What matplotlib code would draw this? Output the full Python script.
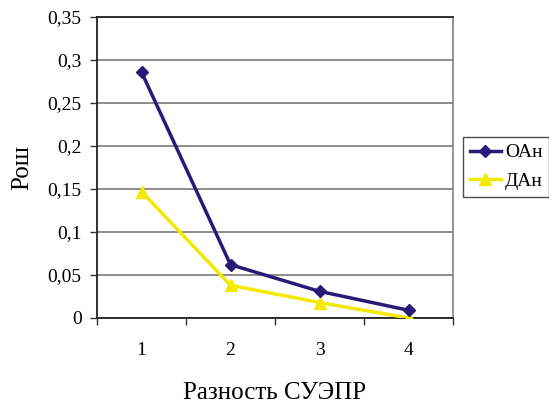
import matplotlib
matplotlib.use("Agg")
import matplotlib.pyplot as plt
from matplotlib.ticker import FixedLocator, FuncFormatter

categories = [1, 2, 3, 4]
oan = [0.286, 0.062, 0.031, 0.009]
dan = [0.147, 0.038, 0.018, 0.0]
y_ticks = [0, 0.05, 0.1, 0.15, 0.2, 0.25, 0.3, 0.35]

plt.rcParams['font.family'] = ['Liberation Serif', 'DejaVu Serif']

fig = plt.figure(figsize=(5.49, 4.03), dpi=100)
ax = fig.add_axes([97 / 549, 1 - 318 / 403, (453 - 97) / 549, (318 - 17) / 403])

x = list(range(len(categories)))
ax.plot(x, oan, color='#2a1a78', lw=2.5, marker='D', ms=6.5, label='ОАн', zorder=4)
ax.plot(x, dan, color='#f2ea00', lw=2.5, marker='^', ms=8, label='ДАн', zorder=3)

ax.set_xlim(-0.5, len(categories) - 0.5)
ax.set_ylim(0, 0.35)

ax.yaxis.set_major_locator(FixedLocator(y_ticks))
ax.yaxis.set_major_formatter(FuncFormatter(lambda v, p: ('%g' % round(v, 2)).replace('.', ',')))
ax.grid(axis='y', color='#6e6e6e', lw=1.1, zorder=0)
ax.set_axisbelow(True)

# category labels sit between the boundary ticks
ax.set_xticks([i - 0.5 for i in range(len(categories) + 1)])
ax.set_xticklabels([])
ax.set_xticks(x, minor=True)
ax.set_xticklabels([str(c) for c in categories], minor=True)
ax.tick_params(axis='x', which='minor', length=0, pad=17, labelsize=14)
ax.tick_params(axis='x', which='major', length=5, width=1, color='#333333', direction='out')
ax.tick_params(axis='y', length=5, width=1, color='#333333', direction='out', pad=6, labelsize=14)

for s in ['left', 'bottom']:
    ax.spines[s].set_color('#222222')
    ax.spines[s].set_linewidth(1.3)
ax.spines['right'].set_color('#777777')
ax.spines['right'].set_linewidth(1.1)
ax.spines['top'].set_color('#222222')
ax.spines['top'].set_linewidth(1.3)

ax.set_xlabel('Разность СУЭПР', fontsize=18, labelpad=17)
ax.set_ylabel('Рош', fontsize=18, labelpad=10)

leg = ax.legend(loc='upper left', bbox_to_anchor=(463 / 549, 1 - 137 / 403),
                bbox_transform=fig.transFigure, fontsize=14, frameon=True,
                fancybox=False, edgecolor='#222222', borderpad=0.35,
                handlelength=1.6, handletextpad=0.2, labelspacing=0.55,
                borderaxespad=0)
leg.get_frame().set_linewidth(1.0)

fig.savefig('out.png', dpi=100)
